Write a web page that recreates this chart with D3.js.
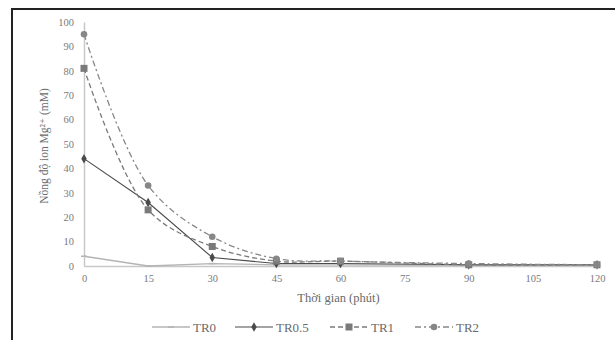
<!DOCTYPE html>
<html>
<head>
<meta charset="utf-8">
<script src="https://cdn.jsdelivr.net/npm/d3@7"></script>
<style>
  body { margin: 0; background: #fff; }
  svg { display: block; font-family: "Liberation Serif", "DejaVu Serif", serif; }
</style>
</head>
<body>
<script>
// data
const times = [0, 15, 30, 45, 60, 90, 120];
const tr0 = [4, 0, 1, 0.5, 0.5, 0.3, 0.3];
const tr05 = [44, 26, 3.5, 1, 1, 0.5, 0.5];
const tr1 = [81, 23, 8, 2, 2, 0.5, 0.5];
const tr2 = [95, 33, 12, 3, 2, 1, 0.5];
const seriesNames = ['TR0', 'TR0.5', 'TR1', 'TR2'];
const xTicks = [0, 15, 30, 45, 60, 75, 90, 105, 120];
const yTicks = [0, 10, 20, 30, 40, 50, 60, 70, 80, 90, 100];

const width = 615;
const height = 340;
const margin = {top: 22, right: 18, bottom: 74, left: 84};
const plotWidth = width - margin.left - margin.right;
const plotHeight = height - margin.top - margin.bottom;

const styles = [
  {color: '#b4b4b4', dash: null, marker: 'dash', width: 1.3, curve: d3.curveLinear},
  {color: '#4a4a4a', dash: null, marker: 'diamond', width: 1.1, curve: d3.curveLinear},
  {color: '#7a7a7a', dash: '5,3', marker: 'square', width: 1.3, curve: d3.curveCatmullRom},
  {color: '#878787', dash: '6,3,2,3', marker: 'circle', width: 1.3, curve: d3.curveCatmullRom}
];
const values = [tr0, tr05, tr1, tr2];

const svg = d3.select('body').append('svg')
    .attr('width', width)
    .attr('height', height);

// frame (cropped figure border)
svg.append('path')
    .attr('d', `M12,${height} L12,9 L${width},9`)
    .attr('fill', 'none')
    .attr('stroke', '#222')
    .attr('stroke-width', 2);

const x = d3.scaleLinear().domain([0, 120]).range([0, plotWidth]);
const y = d3.scaleLinear().domain([0, 100]).range([plotHeight, 0]);

const g = svg.append('g')
    .attr('transform', `translate(${margin.left},${margin.top})`);

const xAxis = g.append('g')
    .attr('transform', `translate(0,${plotHeight})`)
    .call(d3.axisBottom(x).tickValues(xTicks).tickSize(0).tickPadding(9));

const yAxis = g.append('g')
    .call(d3.axisLeft(y).tickValues(yTicks).tickSize(0).tickPadding(10));

[xAxis, yAxis].forEach(a => {
  a.select('.domain').attr('stroke', '#c8c8c8').attr('stroke-width', 1.5);
  a.selectAll('text')
      .attr('fill', '#7a7a7a')
      .attr('font-size', 10.5)
      .attr('font-family', '"Liberation Serif", serif');
});

// axis titles
svg.append('text')
    .attr('x', margin.left + plotWidth / 2 - 2)
    .attr('y', 302)
    .attr('text-anchor', 'middle')
    .attr('font-size', 12.5)
    .attr('fill', '#6a6a6a')
    .text('Thời gian (phút)');

svg.append('text')
    .attr('transform', `translate(48,${margin.top + plotHeight / 2 + 2}) rotate(-90)`)
    .attr('text-anchor', 'middle')
    .attr('font-size', 11.5)
    .attr('fill', '#6a6a6a')
    .text('Nồng độ ion Mg²⁺ (mM)');

function drawMarker(sel, type, color) {
  if (type === 'dash') {
    sel.append('line').attr('x1', -3).attr('x2', 3).attr('y1', 0).attr('y2', 0)
        .attr('stroke', color).attr('stroke-width', 1.5);
  } else if (type === 'diamond') {
    sel.append('path').attr('d', d3.symbol(d3.symbolDiamond, 26)())
        .attr('fill', color);
  } else if (type === 'square') {
    sel.append('rect').attr('x', -3.5).attr('y', -3.5).attr('width', 7).attr('height', 7)
        .attr('fill', color);
  } else {
    sel.append('circle').attr('r', 3.3).attr('fill', color);
  }
}

// lines
values.forEach((vals, i) => {
  const s = styles[i];
  const pts = times.map((t, j) => [t, vals[j]]);
  const line = d3.line()
      .curve(s.curve)
      .x(d => x(d[0]))
      .y(d => y(Math.max(0, d[1])));
  g.append('path')
      .attr('d', line(pts))
      .attr('fill', 'none')
      .attr('stroke', s.color)
      .attr('stroke-width', s.width)
      .attr('stroke-dasharray', s.dash);

  g.append('g').selectAll('g')
      .data(pts)
    .enter().append('g')
      .attr('transform', d => `translate(${x(d[0])},${y(d[1])})`)
      .each(function() { drawMarker(d3.select(this), s.marker, s.color); });
});

// legend
const legendX = [152, 235, 330, 415];
const legend = svg.append('g');
seriesNames.forEach((name, i) => {
  const s = styles[i];
  const item = legend.append('g').attr('transform', `translate(${legendX[i]},327)`);
  item.append('line')
      .attr('x1', 0).attr('x2', 38).attr('y1', 0).attr('y2', 0)
      .attr('stroke', s.color)
      .attr('stroke-width', s.width)
      .attr('stroke-dasharray', s.dash);
  drawMarker(item.append('g').attr('transform', 'translate(19,0)'), s.marker, s.color);
  item.append('text')
      .attr('x', 41)
      .attr('y', 4.5)
      .attr('font-size', 13)
      .attr('fill', '#6a6a6a')
      .text(name);
});
</script>
</body>
</html>
